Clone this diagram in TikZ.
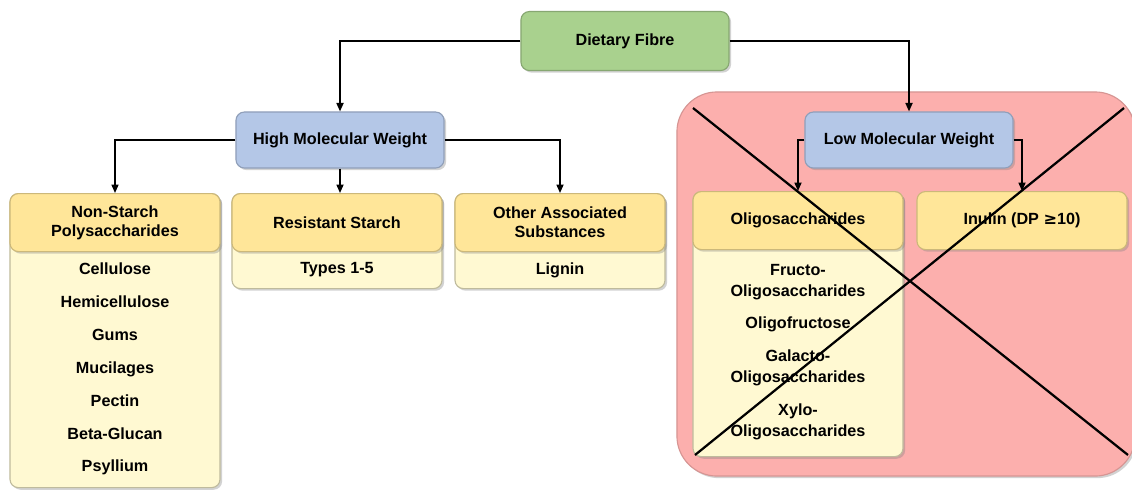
\documentclass[tikz,border=0pt]{standalone}
\usepackage{fontspec}
\setmainfont{Liberation Sans}
\usetikzlibrary{arrows.meta,shadows}

\definecolor{fibregreen}{HTML}{A9D18E}
\definecolor{weightblue}{HTML}{B4C7E7}
\definecolor{headyellow}{HTML}{FFE699}
\definecolor{bodycream}{HTML}{FFF9D2}
\definecolor{crosspink}{HTML}{FCAFAD}

\tikzset{
  box/.style={rounded corners=6pt, line width=0.8pt, align=center,
    font=\fontsize{11.5}{13.5}\selectfont\bfseries,
    drop shadow={opacity=0.35, shadow xshift=1.5pt, shadow yshift=-1.5pt}},
  fibrebox/.style={box, fill=fibregreen, draw=fibregreen!80!black,
    minimum width=5.2cm, minimum height=1.475cm},
  weightbox/.style={box, fill=weightblue, draw=weightblue!80!black,
    minimum width=5.2cm, minimum height=1.4cm},
  headbox/.style={box, fill=headyellow, draw=headyellow!80!black,
    minimum width=5.25cm, minimum height=1.45cm},
  bodybox/.style={box, fill=bodycream, draw=bodycream!75!black,
    minimum width=5.25cm, anchor=north},
  items/.style={align=center, font=\fontsize{11.5}{13.5}\selectfont\bfseries},
  arr/.style={-{Triangle[length=6pt,width=5pt]}, line width=1.1pt},
  crossline/.style={line width=1.6pt}
}

\begin{document}
\begin{tikzpicture}[x=0.025cm,y=-0.025cm]
  \useasboundingbox[fill=white] (0,0) rectangle (1132,489);

  % excluded region
  \node[fill=crosspink, draw=crosspink!85!black, line width=0.8pt,
    rounded corners=1cm, minimum width=11.45cm, minimum height=9.6cm,
    drop shadow={opacity=0.35, shadow xshift=1.5pt, shadow yshift=-1.5pt}]
    (area) at (906,284) {};

  \node[fibrebox] (fibre) at (625,41) {Dietary Fibre};
  \node[weightbox] (high) at (340,140) {High Molecular Weight};
  \node[weightbox] (low) at (909,140) {Low Molecular Weight};

  % high molecular weight
  \node[bodybox, minimum height=7.35cm] (nsp body) at (115,193) {};
  \node[headbox, anchor=north] (nsp) at (115,193) {Non-Starch\\Polysaccharides};
  \node[items, font=\fontsize{11.5}{23.4}\selectfont\bfseries] (nsp list) at (115,369)
    {Cellulose\\Hemicellulose\\Gums\\Mucilages\\Pectin\\Beta-Glucan\\Psyllium};

  \node[bodybox, minimum height=2.375cm] (rs body) at (337,193) {};
  \node[headbox, anchor=north] (rs) at (337,193) {Resistant Starch};
  \node[items] (rs list) at (337,270) {Types 1-5};

  \node[bodybox, minimum height=2.375cm] (oas body) at (560,193) {};
  \node[headbox, anchor=north] (oas) at (560,193) {Other Associated\\Substances};
  \node[items] (oas list) at (560,270) {Lignin};

  % low molecular weight
  \node[bodybox, minimum height=6.625cm] (oligo body) at (798,191) {};
  \node[headbox, anchor=north] (oligo) at (798,191) {Oligosaccharides};
  \node[items, font=\fontsize{11.5}{14.9}\selectfont\bfseries] (oligo list) at (798,352)
    {Fructo-\\Oligosaccharides\\[8.5pt]Oligofructose\\[8.5pt]Galacto-\\Oligosaccharides\\[8.5pt]Xylo-\\Oligosaccharides};

  \node[headbox, anchor=north] (inulin) at (1022,191) {Inulin (DP {\fontspec{DejaVu Sans}\bfseries ≥}10)};

  \draw[arr] (fibre.west) -| (high.north);
  \draw[arr] (fibre.east) -| (low.north);

  \draw[arr] (high.west) -| (nsp.north);
  \draw[arr] (high.south) -- (high.south |- rs.north);
  \draw[arr] (high.east) -| (oas.north);
  \draw[arr] (low.west) -| (oligo.north);
  \draw[arr] (low.east) -| (inulin.north);

  % cross out
  \draw[crossline] (693,108) -- (1128,455);
  \draw[crossline] (695,455) -- (1124,108);
\end{tikzpicture}
\end{document}
